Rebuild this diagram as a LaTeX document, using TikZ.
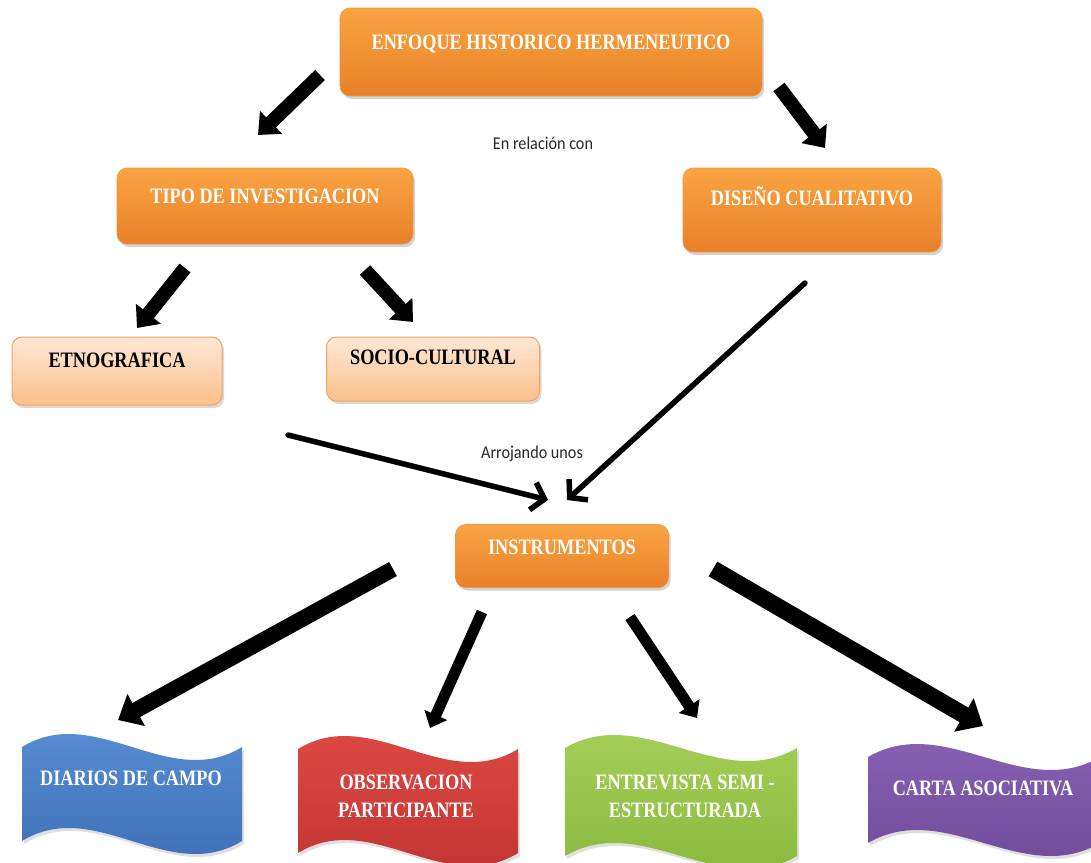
\documentclass[tikz,border=0pt]{standalone}
\usepackage{fontspec}
\usetikzlibrary{arrows.meta,shadows}
\setmainfont{Liberation Serif}
\newfontfamily\boxfont[FakeStretch=0.83]{Liberation Serif}
\newfontfamily\notefont[FakeStretch=0.9]{Carlito}
\definecolor{myOrangeTop}{RGB}{250,164,66}
\definecolor{myOrangeBot}{RGB}{232,128,40}
\definecolor{myOrangeEdge}{RGB}{236,150,70}
\definecolor{myPeachTop}{RGB}{254,232,214}
\definecolor{myPeachBot}{RGB}{251,192,140}
\definecolor{myPeachEdge}{RGB}{246,163,94}
\definecolor{myBlueTop}{RGB}{92,145,216}
\definecolor{myBlueBot}{RGB}{58,108,178}
\definecolor{myRedTop}{RGB}{224,76,70}
\definecolor{myRedBot}{RGB}{190,50,48}
\definecolor{myGreenTop}{RGB}{168,210,92}
\definecolor{myGreenBot}{RGB}{134,182,58}
\definecolor{myPurpleTop}{RGB}{140,100,184}
\definecolor{myPurpleBot}{RGB}{108,72,150}

% wave shaped banner: left x, width, top y, bottom y, top colour, bottom colour
\newcommand{\wavebanner}[6]{%
    \shade[top color=#5,bottom color=#6,
        drop shadow={shadow xshift=2pt,shadow yshift=-3pt,opacity=.25}]
        (#1,#3) .. controls ({#1+#2/3},{#3-45}) and ({#1+2*#2/3},{#3+45}) .. ({#1+#2},#3)
        -- ({#1+#2},#4)
        .. controls ({#1+2*#2/3},{#4+45}) and ({#1+#2/3},{#4-45}) .. (#1,#4) -- cycle;
}

\begin{document}
\begin{tikzpicture}[%
    x=1pt, y=-1pt,
    every node/.style={
        font=\boxfont\bfseries\fontsize{22}{28}\selectfont,
        inner sep=0pt,
    },
    orangebox/.style={
        rounded corners=10pt,
        top color=myOrangeTop, bottom color=myOrangeBot,
        draw=myOrangeEdge, line width=.6pt,
        drop shadow={shadow xshift=2pt,shadow yshift=-3pt,opacity=.35},
        text=white, text height=15pt,
    },
    peachbox/.style={
        rounded corners=10pt,
        top color=myPeachTop, bottom color=myPeachBot,
        draw=myPeachEdge, line width=1pt,
        drop shadow={shadow xshift=2pt,shadow yshift=-3pt,opacity=.3},
        text=black, text height=15pt,
    },
    bannertext/.style={text=white, align=center},
    note/.style={font=\notefont\fontsize{18}{21}\selectfont, text=black!85},
    fatarrow/.style={line width=#1, -{Triangle[length=0pt 1.3, width=0pt 2.2]}},
    thinarrow/.style={line width=5.5pt, line cap=round,
        -{Straight Barb[length=12pt, width=28pt]}},
]
\useasboundingbox (0,0) rectangle (1091,862);

% boxes
\node[orangebox, minimum width=422pt, minimum height=88pt, text depth=20pt]
    (enfoque) at (551,52) {ENFOQUE HISTORICO HERMENEUTICO};
\node[orangebox, minimum width=296pt, minimum height=76pt, text depth=20pt]
    (tipo) at (265,206) {TIPO DE INVESTIGACION};
\node[orangebox, minimum width=258pt, minimum height=84pt, text depth=24pt]
    (diseno) at (812,210) {DISEÑO CUALITATIVO};
\node[peachbox, minimum width=210pt, minimum height=68pt, text depth=22pt]
    (etno) at (117,371) {ETNOGRAFICA};
\node[peachbox, minimum width=213pt, minimum height=64pt, text depth=24pt]
    (socio) at (433,369) {SOCIO-CULTURAL};
\node[orangebox, minimum width=213pt, minimum height=63pt, text depth=19pt]
    (instr) at (562,556) {INSTRUMENTOS};

% banners
\wavebanner{22}{220}{747}{841}{myBlueTop}{myBlueBot}
\wavebanner{298}{220}{749}{853}{myRedTop}{myRedBot}
\wavebanner{565}{232}{748}{856}{myGreenTop}{myGreenBot}
\wavebanner{868}{232}{757}{843}{myPurpleTop}{myPurpleBot}

\node[bannertext] (diarios) at (131,778) {DIARIOS DE CAMPO};
\node[bannertext] (observ) at (406,796) {OBSERVACION\\PARTICIPANTE};
\node[bannertext] (entrev) at (685,796) {ENTREVISTA SEMI -\\ESTRUCTURADA};
\node[bannertext] (carta) at (983,788) {CARTA ASOCIATIVA};

% labels
\node[note] (relacion) at (543,143) {En relación con};
\node[note] (arrojando) at (532,454) {Arrojando unos};

% arrow ends
\coordinate (e1) at (320,75);   \coordinate (t1) at (258,135);
\coordinate (e2) at (779,87);   \coordinate (d1) at (825,148);
\coordinate (t2) at (185,268);  \coordinate (n1) at (137,328);
\coordinate (t3) at (365,270);  \coordinate (s1) at (413,322);
\coordinate (n2) at (288,435);  \coordinate (i1) at (548,500);
\coordinate (d2) at (805,283);  \coordinate (i2) at (567,500);
\coordinate (i3) at (393,569);  \coordinate (b1) at (118,720);
\coordinate (i4) at (482,612);  \coordinate (b2) at (430,728);
\coordinate (i5) at (630,617);  \coordinate (b3) at (697,718);
\coordinate (i6) at (713,569);  \coordinate (b4) at (983,726);

% thick arrows
\draw[fatarrow=14pt] (e1) -- (t1);
\draw[fatarrow=14pt] (e2) -- (d1);
\draw[fatarrow=14pt] (t2) -- (n1);
\draw[fatarrow=14pt] (t3) -- (s1);
\draw[fatarrow=16pt] (i3) -- (b1);
\draw[fatarrow=11pt] (i4) -- (b2);
\draw[fatarrow=11pt] (i5) -- (b3);
\draw[fatarrow=17pt] (i6) -- (b4);

% thin arrows
\draw[thinarrow] (n2) -- (i1);
\draw[thinarrow] (d2) -- (i2);

\end{tikzpicture}
\end{document}
